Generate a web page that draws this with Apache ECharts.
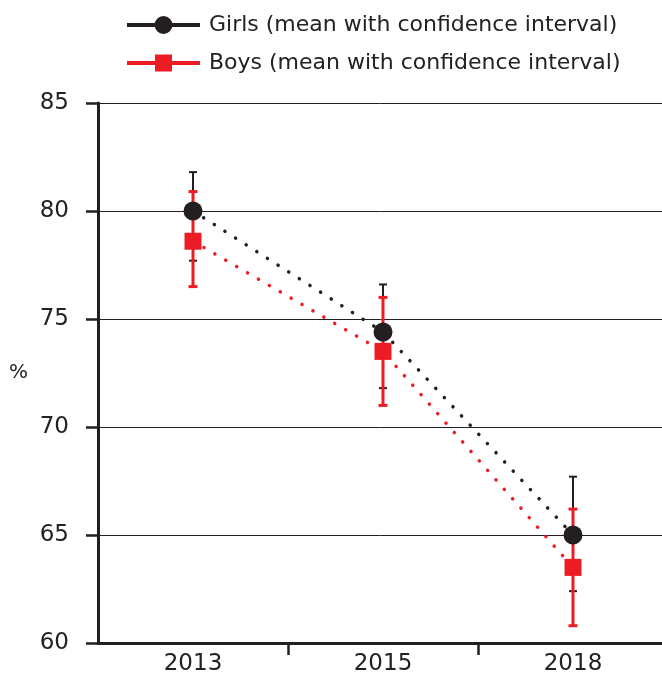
<!DOCTYPE html>
<html><head><meta charset="utf-8">
<script src="https://cdn.jsdelivr.net/npm/echarts@6/dist/echarts.min.js"></script>
<style>html,body{margin:0;padding:0;background:#fff}#c{width:662px;height:673px}</style>
</head><body><div id="c"></div>
<script>
const years = ['2013', '2015', '2018'];
const girlsMean = [80.0, 74.4, 65.0];
const girlsLow = [77.7, 71.8, 62.4];
const girlsHigh = [81.8, 76.6, 67.7];
const boysMean = [78.6, 73.5, 63.5];
const boysLow = [76.5, 71.0, 60.8];
const boysHigh = [80.9, 76.0, 66.2];
const yTicks = [60, 65, 70, 75, 80, 85];

const BLACK = '#231f20', RED = '#ed1c24';
const FONT = '"DejaVu Sans", sans-serif';

function errData(lo, hi) { return years.map((y, i) => [i, lo[i], hi[i]]); }
function errSeries(name, lo, hi, color, w, cap) {
  return {
    type: 'custom', name: name, z: 2, silent: true,
    renderItem: function (params, api) {
      const x = api.value(0);
      const a = api.coord([x, api.value(1)]);
      const b = api.coord([x, api.value(2)]);
      const st = { stroke: color, lineWidth: w };
      return { type: 'group', children: [
        { type: 'line', shape: { x1: a[0], y1: a[1], x2: b[0], y2: b[1] }, style: st },
        { type: 'line', shape: { x1: a[0] - cap, y1: a[1], x2: a[0] + cap, y2: a[1] }, style: st },
        { type: 'line', shape: { x1: b[0] - cap, y1: b[1], x2: b[0] + cap, y2: b[1] }, style: st }
      ]};
    },
    data: errData(lo, hi)
  };
}

const girlsIcon = 'path://M0,7L29,7L29,11L0,11Z M44,7L73,7L73,11L44,11Z M27.5,9A9,9 0 1,1 45.5,9A9,9 0 1,1 27.5,9Z';
const boysIcon = 'path://M0,7L28,7L28,11L0,11Z M45,7L73,7L73,11L45,11Z M28,0.5L45,0.5L45,17.5L28,17.5Z';

const chart = echarts.init(document.getElementById('c'));
chart.setOption({
  animation: false,
  textStyle: { fontFamily: FONT },
  grid: { left: 98, top: 103, width: 570, bottom: 30, containLabel: false, outerBoundsMode: 'none' },
  legend: {
    orient: 'vertical', left: 127, top: 14, itemGap: 16, padding: 0,
    itemWidth: 73, itemHeight: 18,
    textStyle: { fontSize: 22, color: '#222', fontFamily: FONT, padding: [0, 0, 0, 4] },
    data: [
      { name: 'Girls (mean with confidence interval)', icon: girlsIcon, itemStyle: { color: BLACK } },
      { name: 'Boys (mean with confidence interval)', icon: boysIcon, itemStyle: { color: RED } }
    ]
  },
  xAxis: {
    type: 'category', data: years, boundaryGap: true,
    axisLine: { lineStyle: { color: BLACK, width: 3 } },
    axisTick: { show: true, length: 12, lineStyle: { color: BLACK, width: 2.5 },
      interval: function (i) { return i > 0; } },
    axisLabel: { fontSize: 23, color: '#222', margin: 10, interval: 0 }
  },
  yAxis: {
    type: 'value', min: 60, max: 85, interval: 5,
    name: '%', nameLocation: 'middle', nameGap: 70, nameRotate: 0,
    nameTextStyle: { fontSize: 20, color: '#222' },
    axisLine: { show: true, lineStyle: { color: BLACK, width: 3 } },
    axisTick: { show: true, length: 12, lineStyle: { color: BLACK, width: 2.5 } },
    axisLabel: { fontSize: 23, color: '#222', margin: 29,
      formatter: v => yTicks.includes(v) ? String(v) : '' },
    splitLine: { show: true, lineStyle: { color: BLACK, width: 1 } }
  },
  series: [
    errSeries('gErr', girlsLow, girlsHigh, BLACK, 2, 4),
    errSeries('bErr', boysLow, boysHigh, RED, 3, 4.5),
    {
      name: 'Girls (mean with confidence interval)', type: 'line', z: 3,
      data: girlsMean, symbol: 'circle', symbolSize: 19,
      itemStyle: { color: BLACK },
      lineStyle: { color: BLACK, width: 3.5, type: [0.1, 12.5], cap: 'round' }
    },
    {
      name: 'Boys (mean with confidence interval)', type: 'line', z: 4,
      data: boysMean, symbol: 'rect', symbolSize: 17,
      itemStyle: { color: RED },
      lineStyle: { color: RED, width: 3.5, type: [0.1, 12.5], cap: 'round' }
    }
  ]
});
</script></body></html>
